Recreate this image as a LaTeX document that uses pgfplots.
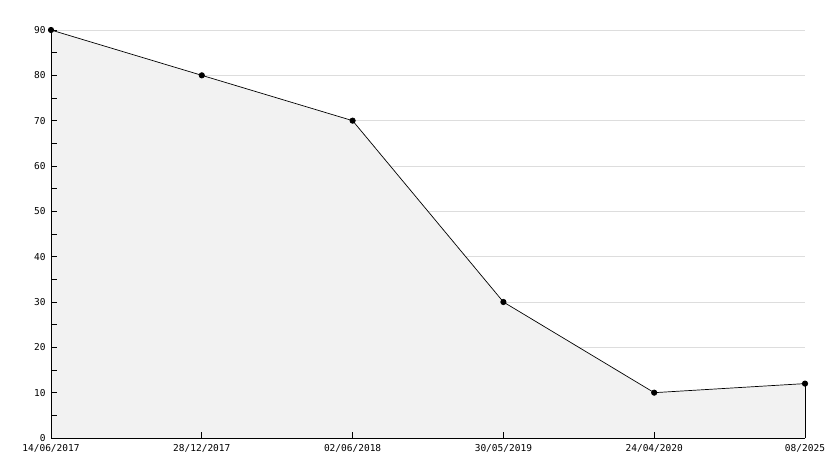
\documentclass[border=0pt]{standalone}
\usepackage{fontspec}
\setmainfont{DejaVu Sans Mono}
\usepackage{pgfplots}
\pgfplotsset{compat=1.18}
\definecolor{fillgray}{HTML}{F2F2F2}
\definecolor{gridgray}{HTML}{DDDDDD}
\pgfplotsset{common/.style={
  at={(0,0)}, anchor=south west,
  scale only axis, width=754bp, height=408bp,
  xmin=0, xmax=5, ymin=0, ymax=90,
  xtick={0,1,2,3,4,5},
  ytick={0,10,...,90},
}}
\begin{document}
\begin{tikzpicture}[x=1bp,y=1bp]
\begin{axis}[
  common,
  axis line style={draw=none},
  major tick style={draw=none},
  ymajorgrids, major grid style={gridgray, line width=0.8bp},
  xtick=\empty, yticklabels={},
  clip=false,
]
\addplot[fill=fillgray, draw=none] coordinates {(0,90) (1,80) (2,70) (3,30) (4,10) (5,12)} \closedcycle;
\addplot[black, line width=0.7bp, mark=*, mark size=2.7bp] coordinates {(0,90) (1,80) (2,70) (3,30) (4,10) (5,12)};
\addplot[black, line width=0.9bp] coordinates {(5,0) (5,12)};
\end{axis}
\begin{axis}[
  common,
  axis x line*=bottom, axis y line*=left,
  axis line style={black, line width=0.9bp},
  xticklabels={14/06/2017,28/12/2017,02/06/2018,30/05/2019,24/04/2020,08/2025},
  minor ytick={5,15,...,85},
  tick align=inside,
  major tick length=6bp, minor tick length=6bp,
  tick style={black, line width=0.9bp},
  tick label style={font=\fontsize{9.5bp}{11bp}\selectfont},
  /pgf/number format/assume math mode=true,
  xticklabel style={yshift=-3bp},
  yticklabel style={xshift=-2bp},
]
\end{axis}
\pgfresetboundingbox
\path[use as bounding box] (-51bp,-30bp) rectangle (783bp,438bp);
\end{tikzpicture}
\end{document}
